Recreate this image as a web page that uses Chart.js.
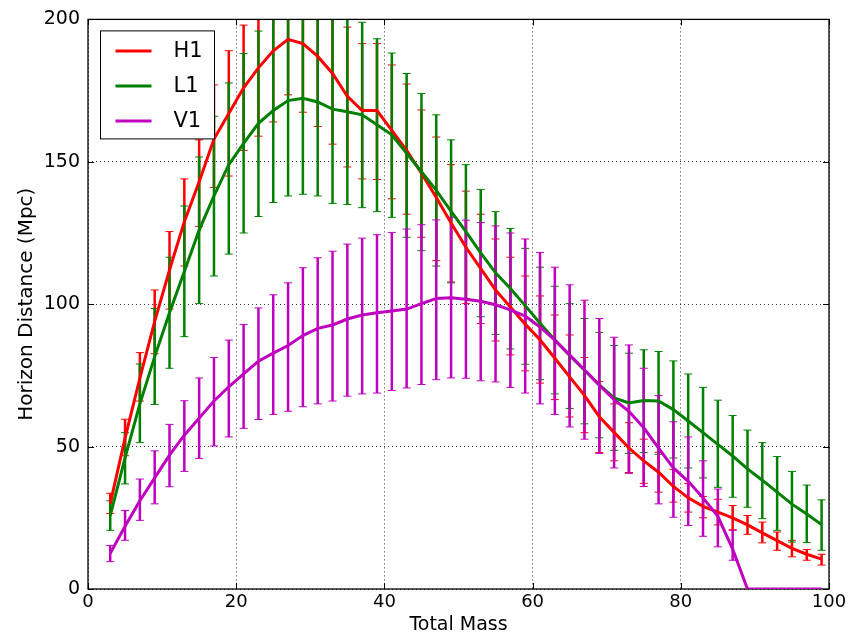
<!doctype html>
<html>

<head>
	<title>Horizon Distance</title>
	<meta charset="UTF-8">
	<script src="https://cdn.jsdelivr.net/npm/chart.js@4.4.1/dist/chart.umd.min.js"></script>
</head>
<body style="margin:0;background:#fff;">
<div id="canvas-holder">
	<canvas id="chart-area" width="858" height="633"></canvas>
</div>
<script>
	var masses = [3, 5, 7, 9, 11, 13, 15, 17, 19, 21, 23, 25, 27, 29, 31, 33, 35, 37, 39, 41, 43, 45, 47, 49, 51,
		53, 55, 57, 59, 61, 63, 65, 67, 69, 71, 73, 75, 77, 79, 81, 83, 85, 87, 89, 91, 93, 95, 97, 99];

	// H1
	var h1 = [30, 53, 74, 94, 112, 129, 143, 158, 167, 176, 183, 189, 193, 191.5, 187, 181, 173, 168, 168, 161, 154, 146, 137.5, 128.5, 120,
		112.5, 105, 99, 93, 87.5, 81, 74.5, 68, 60.5, 55, 49.5, 45, 41, 36, 32, 29, 27, 25, 22.5, 19.7, 17, 14.3, 12.2, 10.5];
	var h1Lo = [26.5, 46.8, 66, 82.6, 98.3, 113.4, 127.3, 141, 145, 154, 159, 164, 173.5, 167.4, 162.4, 156.2, 148.2, 144, 143.8, 137, 131.6, 123.5, 115.3, 107.8, 100.2,
		93.2, 87.1, 82.2, 76.6, 72.3, 66.5, 60.4, 54.9, 47.9, 45, 40.9, 37.1, 34, 30.5, 27, 25, 22.5, 20.8, 19.2, 16.2, 13.6, 11.3, 10.1, 8.4];
	var h1Hi = [33.6, 59.6, 83, 105, 125.5, 144, 157.7, 177, 189, 198, 207, 214, 213, 216, 212, 206, 197.3, 191.5, 191.5, 184, 177.3, 168.2, 158.7, 149, 139.7,
		131.6, 122.9, 116.5, 109.9, 102.9, 96.2, 89.2, 81.3, 72.9, 65, 58.4, 52.6, 48, 42, 37, 32.5, 31.5, 29.3, 25.8, 23.5, 20, 17.1, 13.9, 12.2];

	// L1
	var l1 = [25.8, 46, 65, 81.6, 97, 111.5, 126, 138, 149, 156.5, 163.5, 168, 171.5, 172.3, 171, 168.5, 167.6, 166.5, 163, 159.5, 153, 146.5, 140, 132.6, 125.5,
		118, 111, 105.5, 99.5, 93.3, 87.4, 82, 76.8, 71.7, 67.1, 65.3, 66.2, 66, 63, 59, 54.9, 50.8, 46.7, 42.2, 38.2, 34, 29.8, 26.3, 22.6];
	var l1Lo = [20.6, 36.9, 51.4, 64.8, 77.5, 88.6, 100.2, 109.9, 117.6, 125, 130.8, 135.7, 138, 138.6, 138, 135.4, 135, 133.9, 132.5, 130.5, 123.5, 118.8, 113.4, 107.5, 102,
		95.6, 89.4, 84.3, 78.9, 73.5, 68.5, 63.4, 58, 53.1, 48.7, 47.6, 47.9, 47.3, 46, 42.5, 39, 35.7, 32.2, 28.7, 24.7, 20.6, 16.5, 16.3, 13.6];
	var l1Hi = [31, 54.9, 79, 98.5, 116.5, 134.5, 151.7, 166, 177.7, 188, 195.9, 200.5, 205, 206, 204, 201.6, 200.2, 199, 193.2, 188.2, 181, 174, 166.5, 157.7, 149,
		140.3, 132.5, 126.6, 119.6, 113, 106.3, 100.2, 95, 90.1, 85.5, 82.8, 84, 83.4, 80.1, 75.5, 70.8, 66.3, 60.9, 55.8, 51.4, 46.5, 41.3, 36.5, 31.3];

	// V1 (no bars once it drops to zero)
	var v1 = [12.5, 22, 31, 39, 47, 54, 60, 66, 71, 75.5, 80, 82.8, 85.5, 89, 91.5, 92.7, 94.8, 96.2, 97, 97.6, 98.3, 100.2, 102, 102.3, 101.7,
		101, 99.8, 98, 95.8, 92, 87.4, 82.2, 77, 71.6, 66.5, 62.4, 56.6, 49.5, 42.5, 37.8, 32, 25.5, 14, 0, 0, 0, 0, 0, 0];
	var v1Lo = [9.6, 17.1, 24.1, 29.9, 35.9, 41.3, 45.8, 50.2, 53.4, 56.4, 59.5, 61.3, 62.4, 64, 65, 66, 67.7, 68.5, 68.8, 69.7, 70.6, 71.8, 73.5, 74.1, 74,
		73.1, 72.7, 70.8, 68.8, 65, 61.3, 56.9, 52.6, 47.6, 42.5, 40.6, 36, 29.9, 25.2, 22.3, 18.5, 14.8, 10.1, null, null, null, null, null, null];
	var v1Hi = [15.3, 27.6, 38.6, 48.5, 57.8, 66.1, 74.1, 81.3, 87.4, 92.9, 98.7, 103.3, 107.5, 112.8, 116.3, 118.6, 121.1, 123.2, 124.4, 125.2, 126.4, 127.9, 129.6, 130.5, 129.5,
		128.7, 127.5, 125, 122.9, 118.2, 113, 106.8, 101.4, 95, 88.4, 85.7, 77.5, 67.9, 58.7, 53.4, 45, 35.1, 20.6, null, null, null, null, null, null];

	var xTicks = [0, 20, 40, 60, 80, 100];
	var yTicks = [0, 50, 100, 150, 200];

	var fontName = "'DejaVu Sans', sans-serif";

	function points(vals) {
		return masses.map(function (m, i) {
			return {x: m, y: vals[i]};
		});
	}

	function series(label, color, vals, lo, hi, order) {
		return {
			label: label,
			data: points(vals),
			lo: lo,
			hi: hi,
			borderColor: color,
			backgroundColor: color,
			borderWidth: 3,
			pointRadius: 0,
			tension: 0,
			order: order
		};
	}

	// error bars under all lines, frame with inward ticks
	var errorBars = {
		id: 'errorBars',
		beforeDatasetsDraw: function (chart) {
			var ctx = chart.ctx;
			var a = chart.chartArea;
			var xs = chart.scales.x;
			var ys = chart.scales.y;
			ctx.save();
			ctx.beginPath();
			ctx.rect(a.left, a.top, a.right - a.left, a.bottom - a.top);
			ctx.clip();
			chart.data.datasets.forEach(function (ds) {
				ctx.strokeStyle = ds.borderColor;
				for (var i = 0; i < ds.data.length; i++) {
					if (ds.lo[i] === null) continue;
					var px = xs.getPixelForValue(ds.data[i].x);
					var y1 = ys.getPixelForValue(ds.lo[i]);
					var y2 = ys.getPixelForValue(ds.hi[i]);
					ctx.lineWidth = 2.5;
					ctx.beginPath();
					ctx.moveTo(px, y1);
					ctx.lineTo(px, y2);
					ctx.stroke();
					ctx.lineWidth = 1;
					ctx.beginPath();
					ctx.moveTo(px - 4, y1);
					ctx.lineTo(px + 4, y1);
					ctx.moveTo(px - 4, y2);
					ctx.lineTo(px + 4, y2);
					ctx.stroke();
				}
			});
			ctx.restore();

			ctx.save();
			ctx.strokeStyle = '#000';
			ctx.lineWidth = 1.3;
			ctx.strokeRect(a.left, a.top, a.right - a.left, a.bottom - a.top);
			ctx.lineWidth = 1;
			ctx.beginPath();
			xTicks.forEach(function (t) {
				var px = Math.round(xs.getPixelForValue(t)) + 0.5;
				ctx.moveTo(px, a.bottom);
				ctx.lineTo(px, a.bottom - 6);
				ctx.moveTo(px, a.top);
				ctx.lineTo(px, a.top + 6);
			});
			yTicks.forEach(function (t) {
				var py = Math.round(ys.getPixelForValue(t)) + 0.5;
				ctx.moveTo(a.left, py);
				ctx.lineTo(a.left + 6, py);
				ctx.moveTo(a.right, py);
				ctx.lineTo(a.right - 6, py);
			});
			ctx.stroke();
			ctx.restore();
		}
	};

	// boxed legend inside the top left corner
	var boxLegend = {
		id: 'boxLegend',
		afterDraw: function (chart) {
			var ctx = chart.ctx;
			var a = chart.chartArea;
			var bx = a.left + 12.5, by = a.top + 11.5, bw = 114, bh = 108;
			ctx.save();
			ctx.fillStyle = '#fff';
			ctx.fillRect(bx, by, bw, bh);
			ctx.strokeStyle = '#000';
			ctx.lineWidth = 1;
			ctx.strokeRect(bx, by, bw, bh);
			ctx.font = '21px ' + fontName;
			ctx.textBaseline = 'middle';
			ctx.fillStyle = '#000';
			chart.data.datasets.forEach(function (ds, i) {
				var y = by + 20 + i * 35;
				ctx.strokeStyle = ds.borderColor;
				ctx.lineWidth = 3;
				ctx.beginPath();
				ctx.moveTo(bx + 15, y);
				ctx.lineTo(bx + 51, y);
				ctx.stroke();
				ctx.fillText(ds.label, bx + 73, y + 1);
			});
			ctx.restore();
		}
	};

	var config = {
		type: 'line',
		data: {
			datasets: [
				series('H1', '#ff0000', h1, h1Lo, h1Hi, 3),
				series('L1', '#008000', l1, l1Lo, l1Hi, 2),
				series('V1', '#bf00bf', v1, v1Lo, v1Hi, 1)
			]
		},
		options: {
			responsive: false,
			animation: false,
			layout: {
				padding: {top: 15, right: 29, left: 0, bottom: 0}
			},
			plugins: {
				legend: {display: false},
				tooltip: {enabled: false}
			},
			scales: {
				x: {
					type: 'linear',
					min: 0,
					max: 100,
					afterFit: function (s) { s.height = 44; },
					afterBuildTicks: function (s) {
						s.ticks = xTicks.map(function (v) { return {value: v}; });
					},
					ticks: {
						color: '#000',
						padding: 3,
						maxRotation: 0,
						font: {family: fontName, size: 18}
					},
					grid: {color: 'rgba(0,0,0,0.8)', lineWidth: 1, drawTicks: false},
					border: {display: false, dash: [1, 3]},
					title: {
						display: true,
						text: 'Total Mass',
						color: '#000',
						padding: {top: 0, bottom: -3},
						font: {family: fontName, size: 19}
					}
				},
				y: {
					min: 0,
					max: 200,
					afterFit: function (s) { s.width = 88; },
					afterBuildTicks: function (s) {
						s.ticks = yTicks.map(function (v) { return {value: v}; });
					},
					ticks: {
						color: '#000',
						padding: 8,
						font: {family: fontName, size: 19}
					},
					grid: {color: 'rgba(0,0,0,0.8)', lineWidth: 1, drawTicks: false},
					border: {display: false, dash: [1, 3]},
					title: {
						display: true,
						text: 'Horizon Distance (Mpc)',
						color: '#000',
						padding: {top: 15, bottom: 0},
						font: {family: fontName, size: 20}
					}
				}
			}
		},
		plugins: [errorBars, boxLegend]
	};

	window.onload = function () {
		var ctx = document.getElementById('chart-area').getContext('2d');
		window.myLine = new Chart(ctx, config);
	};
</script>

</body>

</html>
